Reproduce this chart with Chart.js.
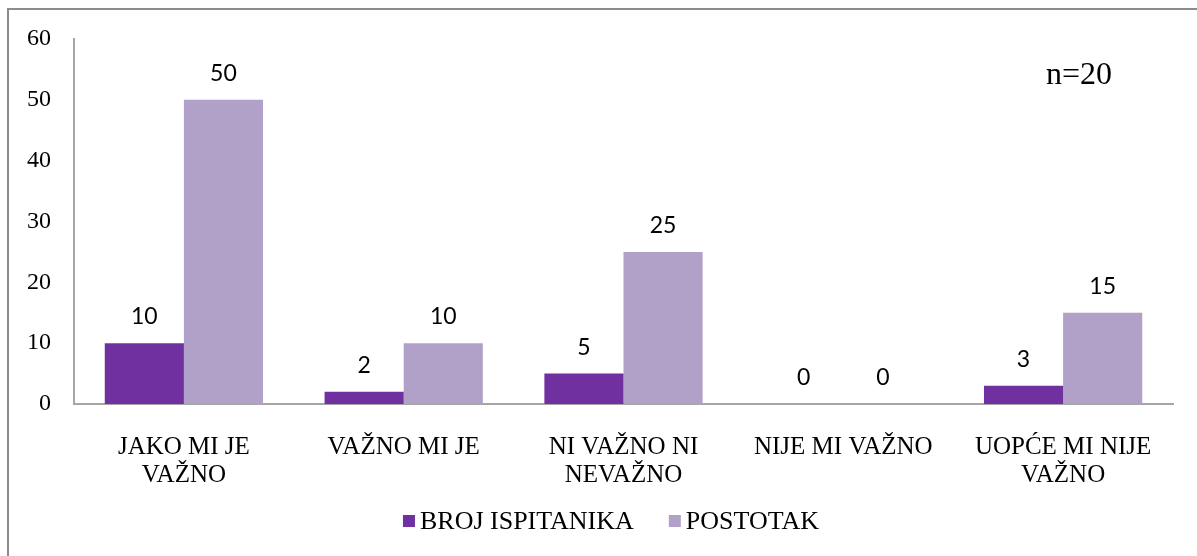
<!DOCTYPE html>
<html>
<head>
<meta charset="utf-8">
<script src="https://cdn.jsdelivr.net/npm/chart.js@4/dist/chart.umd.min.js"></script>
<style>
    html, body { margin: 0; padding: 0; background: #fff; overflow: hidden; }
    #wrap { position: relative; width: 1197px; height: 556px; overflow: hidden; }
    #frame { position: absolute; left: 7px; top: 8px; width: 1300px; height: 700px; border: 2px solid #8c8c8c; box-sizing: border-box; }
    #note { position: absolute; left: 1046px; top: 55px; font: 32px "Liberation Serif", serif; color: #000; }
    canvas { position: absolute; left: 0; top: 0; }
</style>
</head>
<body>
<div id="wrap">
    <canvas id="chart" width="1197" height="556"></canvas>
    <div id="frame"></div>
    <div id="note">n=20</div>
</div>
<script>
    // --- Data ---
    const categories = [['JAKO MI JE', 'VAŽNO'], 'VAŽNO MI JE', ['NI VAŽNO NI', 'NEVAŽNO'], 'NIJE MI VAŽNO', ['UOPĆE MI NIJE', 'VAŽNO']];
    const brojIspitanika = [10, 2, 5, 0, 3];
    const postotak = [50, 10, 25, 0, 15];
    const seriesNames = ['BROJ ISPITANIKA', 'POSTOTAK'];
    const yTicks = [0, 10, 20, 30, 40, 50, 60];

    const serif = '"Liberation Serif", "Times New Roman", serif';

    // --- Value labels above bars ---
    const valueLabels = {
        id: 'valueLabels',
        afterDatasetsDraw(chart) {
            const ctx = chart.ctx;
            ctx.save();
            ctx.font = '23px Lato, "Open Sans", sans-serif';
            ctx.fillStyle = '#000';
            ctx.textAlign = 'center';
            ctx.textBaseline = 'alphabetic';
            chart.data.datasets.forEach((ds, i) => {
                const meta = chart.getDatasetMeta(i);
                meta.data.forEach((bar, j) => {
                    ctx.fillText(String(ds.data[j]), bar.x, bar.y - 19);
                });
            });
            ctx.restore();
        }
    };

    // --- Legend under the axis (Excel style: small square, tight gap) ---
    const bottomLegend = {
        id: 'bottomLegend',
        afterDraw(chart) {
            const ctx = chart.ctx;
            const box = 12, gap = 5, itemGap = 35, cy = 521;
            ctx.save();
            ctx.font = '26px ' + serif;
            ctx.textBaseline = 'middle';
            ctx.textAlign = 'left';
            const items = chart.data.datasets.map(ds => ({ text: ds.label, color: ds.backgroundColor, w: ctx.measureText(ds.label).width }));
            const total = items.reduce((s, it) => s + box + gap + it.w, 0) + itemGap * (items.length - 1);
            let x = 611 - total / 2;
            items.forEach(it => {
                ctx.fillStyle = it.color;
                ctx.fillRect(x, cy - box / 2, box, box);
                ctx.fillStyle = '#000';
                ctx.fillText(it.text, x + box + gap, cy + 1);
                x += box + gap + it.w + itemGap;
            });
            ctx.restore();
        }
    };

    new Chart(document.getElementById('chart').getContext('2d'), {
        type: 'bar',
        data: {
            labels: categories,
            datasets: [
                { label: seriesNames[0], data: brojIspitanika, backgroundColor: '#7030A0' },
                { label: seriesNames[1], data: postotak, backgroundColor: '#B1A0C7' }
            ]
        },
        options: {
            responsive: false,
            animation: false,
            layout: { padding: { left: 0, top: 39, right: 24, bottom: 64 } },
            datasets: { bar: { categoryPercentage: 0.72, barPercentage: 1 } },
            plugins: {
                tooltip: { enabled: false },
                legend: { display: false }
            },
            scales: {
                x: {
                    grid: { display: false },
                    border: { display: true, color: '#a6a6a6', width: 2 },
                    ticks: {
                        font: { family: serif, size: 25, lineHeight: 1.1 },
                        color: '#000',
                        padding: 22,
                        maxRotation: 0,
                        autoSkip: false
                    },
                    afterFit(scale) { scale.height = 88; }
                },
                y: {
                    min: 0,
                    max: 60,
                    afterBuildTicks(scale) { scale.ticks = yTicks.map(v => ({ value: v })); },
                    grid: { display: false },
                    border: { display: true, color: '#a6a6a6', width: 2 },
                    ticks: {
                        font: { family: serif, size: 24 },
                        color: '#000',
                        padding: 15
                    },
                    afterFit(scale) { scale.width = 74; }
                }
            }
        },
        plugins: [valueLabels, bottomLegend]
    });
</script>
</body>
</html>
